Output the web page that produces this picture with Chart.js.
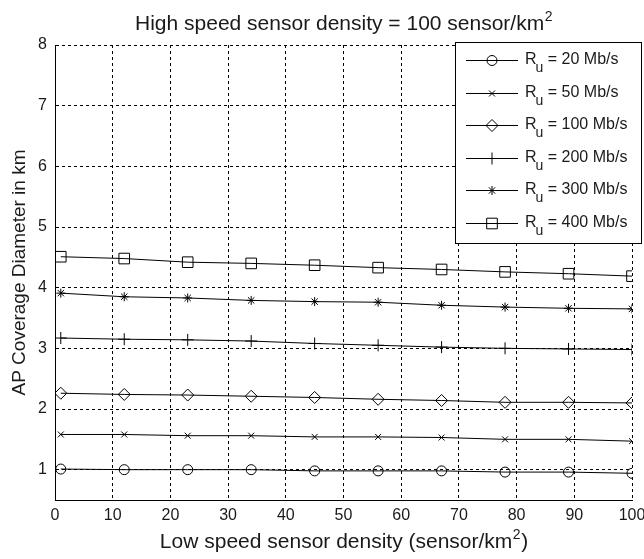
<!DOCTYPE html>
<html>
<head>
<meta charset="utf-8">
<script src="https://cdn.jsdelivr.net/npm/chart.js@4"></script>
<style>html,body{margin:0;padding:0;background:#fff}canvas{display:block}</style>
</head>
<body>
<canvas id="chart" width="644" height="559"></canvas>
<script>
// low speed sensor density (sensor/km^2) at the marker positions
const density = [1, 12, 23, 34, 45, 56, 67, 78, 89, 100];
const rates = [20, 50, 100, 200, 300, 400];
const ru20  = [1.01, 1.00, 1.00, 1.00, 0.98, 0.98, 0.98, 0.96, 0.96, 0.94];
const ru50  = [1.58, 1.58, 1.56, 1.56, 1.54, 1.54, 1.53, 1.50, 1.50, 1.47];
const ru100 = [2.26, 2.24, 2.23, 2.21, 2.19, 2.16, 2.14, 2.11, 2.11, 2.10];
const ru200 = [3.17, 3.15, 3.14, 3.12, 3.08, 3.05, 3.02, 3.00, 2.99, 2.98];
const ru300 = [3.91, 3.85, 3.83, 3.79, 3.77, 3.76, 3.71, 3.68, 3.66, 3.65];
const ru400 = [4.51, 4.48, 4.42, 4.40, 4.37, 4.33, 4.30, 4.26, 4.23, 4.19];
const yTicks = [1, 2, 3, 4, 5, 6, 7, 8];

const chartTitle = 'High speed sensor density = 100 sensor/km';
const xTitle = 'Low speed sensor density (sensor/km';
const yTitle = 'AP Coverage Diameter in km';

const FONT = '"Liberation Sans", Arial, sans-serif';
const INK = '#1a1a1a';
const series = [ru20, ru50, ru100, ru200, ru300, ru400];
const markers = [
  { style: 'circle', r: 5 },
  { style: 'crossRot', r: 4.2 },
  { style: 'rectRot', r: 6 },
  { style: 'cross', r: 6 },
  { style: 'star', r: 4.5 },
  { style: 'rect', r: 7.5 }
];

const datasets = series.map((vals, i) => ({
  label: 'Ru = ' + rates[i] + ' Mb/s',
  data: vals.map((v, j) => ({ x: density[j], y: v })),
  borderColor: '#000', borderWidth: 1,
  pointStyle: markers[i].style, pointRadius: markers[i].r,
  pointBorderColor: '#000', pointBackgroundColor: 'rgba(0,0,0,0)',
  pointBorderWidth: 1, tension: 0, fill: false
}));

// text with a trailing superscript 2, centred on cx
function supText(ctx, main, tail, cx, baseY, size) {
  ctx.font = size + 'px ' + FONT;
  const w1 = ctx.measureText(main).width;
  ctx.font = Math.round(size * 0.68) + 'px ' + FONT;
  const w2 = ctx.measureText('2').width;
  ctx.font = size + 'px ' + FONT;
  const w3 = ctx.measureText(tail).width;
  let x = cx - (w1 + w2 + w3) / 2;
  ctx.textAlign = 'left';
  ctx.textBaseline = 'alphabetic';
  ctx.fillText(main, x, baseY);
  ctx.font = Math.round(size * 0.68) + 'px ' + FONT;
  ctx.fillText('2', x + w1 + 0.5, baseY - size * 0.42);
  ctx.font = size + 'px ' + FONT;
  if (tail) ctx.fillText(tail, x + w1 + w2 + 1, baseY);
}

// title, x label and legend with subscripted R_u, drawn MATLAB style
const matlabDecor = {
  id: 'matlabDecor',
  afterDraw(chart) {
    const ctx = chart.ctx;
    const a = chart.chartArea;
    const cx = (a.left + a.right) / 2;
    ctx.save();
    ctx.fillStyle = INK;
    supText(ctx, chartTitle, '', cx, 30, 21);
    supText(ctx, xTitle, ')', cx, 548, 21);

    ctx.fillStyle = '#fff';
    ctx.fillRect(455.5, 42.5, 186, 201);
    ctx.strokeStyle = '#000';
    ctx.lineWidth = 1;
    ctx.strokeRect(455.5, 42.5, 186, 201);
    chart.data.datasets.forEach((ds, i) => {
      const y = Math.round(60 + i * 32.5) + 0.5;
      ctx.strokeStyle = '#000';
      ctx.lineWidth = 1;
      ctx.beginPath();
      ctx.moveTo(466, y);
      ctx.lineTo(518, y);
      ctx.stroke();
      ctx.fillStyle = 'rgba(0,0,0,0)';
      Chart.helpers.drawPoint(ctx, { pointStyle: markers[i].style, radius: markers[i].r, rotation: 0, borderWidth: 1 }, 492, y);
      ctx.fillStyle = INK;
      ctx.textAlign = 'left';
      ctx.textBaseline = 'alphabetic';
      ctx.font = '16px ' + FONT;
      ctx.fillText('R', 525, y + 3);
      const rw = ctx.measureText('R').width;
      ctx.font = '14px ' + FONT;
      ctx.fillText('u', 525 + rw - 1, y + 11);
      const uw = ctx.measureText('u').width;
      ctx.font = '16px ' + FONT;
      ctx.fillText(' = ' + rates[i] + ' Mb/s', 525 + rw - 1 + uw, y + 3);
    });
    ctx.restore();
  }
};

new Chart(document.getElementById('chart').getContext('2d'), {
  type: 'line',
  data: { datasets },
  plugins: [matlabDecor],
  options: {
    responsive: false, animation: false,
    layout: { padding: { top: 45, right: 12, bottom: 0, left: 0 } },
    plugins: { legend: { display: false }, tooltip: { enabled: false }, title: { display: false } },
    scales: {
      x: {
        type: 'linear', min: 0, max: 100,
        ticks: { stepSize: 10, color: INK, padding: 6, maxRotation: 0, font: { family: FONT, size: 16 } },
        grid: { color: '#000', lineWidth: 1, drawTicks: false },
        border: { display: true, color: '#000', width: 1, dash: [3, 3] },
        title: { display: false },
        afterFit(s) { s.height = 59; s.paddingLeft = 0; s.paddingRight = 0; }
      },
      y: {
        type: 'linear', min: 0.5, max: 8,
        afterBuildTicks(s) { s.ticks = yTicks.map(v => ({ value: v })); },
        ticks: { color: INK, padding: 8, font: { family: FONT, size: 16 } },
        grid: { color: '#000', lineWidth: 1, drawTicks: false },
        border: { display: true, color: '#000', width: 1, dash: [3, 3] },
        title: { display: true, text: yTitle, color: INK, font: { family: FONT, size: 19 }, padding: { top: 8, bottom: 0 } },
        afterFit(s) { s.width = 55; s.paddingTop = 0; s.paddingBottom = 0; }
      }
    }
  }
});
</script>
</body>
</html>
